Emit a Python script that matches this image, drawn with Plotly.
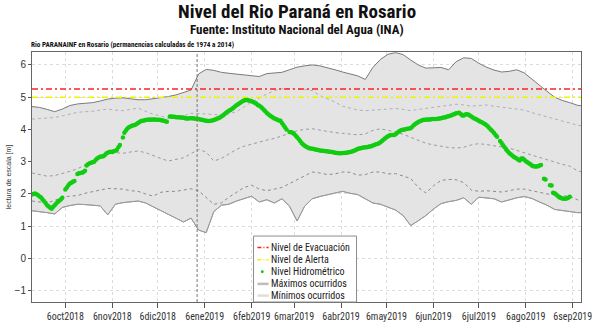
import pandas as pd
import plotly.graph_objects as go

# ---------------- data ----------------
start_date = "2018-09-14"

# daily water level (Nivel Hidrométrico), None = missing day
nivel = [
    1.98, 2.00, 2.01, 1.99, 1.96, 1.92, 1.89, 1.83, 1.77, 1.72,
    1.65, 1.61, 1.57, 1.54, 1.60, 1.65, 1.70, 1.75, 1.79, 1.83,
    1.88, None, 2.14, 2.20, 2.27, 2.32, 2.35, 2.38, 2.40, None,
    2.62, 2.64, 2.65, 2.66, 2.68, 2.72, 2.88, 2.92, 2.95, 2.97,
    2.98, 3.00, 3.05, 3.10, 3.13, 3.15, 3.16, 3.17, 3.20, 3.25,
    3.28, 3.30, 3.31, 3.30, 3.32, 3.34, 3.36, 3.45, 3.52, None,
    3.75, 3.90, 3.97, 4.03, 4.07, 4.09, 4.11, 4.13, 4.14, 4.17,
    4.20, 4.23, 4.26, 4.27, 4.28, 4.29, 4.30, 4.30, 4.31, 4.30,
    4.31, 4.31, 4.30, 4.30, 4.30, 4.29, 4.28, 4.27, 4.25, 4.24,
    None, 4.40, 4.40, 4.39, 4.39, 4.38, 4.38, 4.38, 4.37, 4.37,
    4.36, 4.35, 4.34, 4.34, 4.35, 4.35, 4.35, 4.34, 4.33, 4.33,
    4.32, 4.31, 4.30, 4.29, 4.28, 4.27, 4.26, 4.26, 4.27, 4.28,
    4.29, 4.31, 4.33, 4.35, 4.37, 4.40, 4.43, 4.47, 4.51, 4.55,
    4.58, 4.60, 4.63, 4.67, 4.71, 4.75, 4.78, 4.81, 4.84, 4.87,
    4.90, 4.91, 4.91, 4.90, 4.89, 4.87, 4.85, 4.83, 4.80, 4.76,
    4.73, 4.70, 4.66, 4.61, 4.56, 4.51, 4.47, 4.43, 4.40, 4.37,
    4.34, 4.32, 4.30, 4.28, 4.27, 4.20, 4.14, 4.07, 4.00, None,
    3.92, 3.91, 3.90, 3.86, 3.81, 3.76, 3.70, 3.64, 3.58, 3.53,
    3.49, 3.46, 3.44, 3.42, 3.41, 3.40, 3.39, 3.38, 3.37, 3.36,
    3.35, 3.34, 3.34, 3.33, 3.32, 3.32, 3.31, 3.31, 3.30, 3.29,
    3.28, 3.27, 3.27, 3.26, 3.26, 3.27, 3.27, 3.28, 3.28, 3.29,
    3.30, 3.31, 3.33, 3.35, 3.37, 3.39, 3.41, 3.42, 3.43, 3.44,
    3.45, 3.45, 3.46, 3.47, 3.48, 3.50, 3.52, 3.54, 3.55, 3.57,
    3.60, 3.64, 3.68, 3.72, 3.76, 3.79, 3.81, 3.83, 3.83, 3.83,
    3.85, 3.89, 3.93, 3.96, 3.98, 3.99, 4.00, 4.01, 4.02, 4.03,
    4.04, 4.08, 4.13, 4.17, 4.20, 4.23, 4.25, 4.27, 4.29, 4.30,
    4.30, 4.31, 4.31, 4.31, 4.32, 4.32, 4.32, 4.32, 4.33, 4.34,
    4.35, 4.36, 4.37, 4.38, 4.40, 4.41, 4.42, 4.44, 4.46, 4.48,
    4.50, 4.51, 4.52, 4.48, 4.43, 4.43, 4.46, 4.47, 4.46, 4.43,
    4.40, 4.37, 4.34, 4.32, 4.29, 4.27, 4.24, 4.22, 4.19, 4.17,
    4.13, 4.09, 4.04, 3.99, 3.94, 3.89, 3.83, 3.77, None, 3.64,
    3.58, 3.51, 3.45, 3.38, 3.32, 3.27, 3.23, 3.19, 3.15, 3.12,
    3.10, 3.06, 3.04, 3.10, 3.10, 3.06, 3.01, 2.98, 2.95, 2.92,
    2.88, 2.86, 2.85, 2.85, 2.86, 2.88, 2.90, None, 2.47, 2.45,
    None, None, 2.27, 2.26, 2.04, 2.02, 1.98, 1.94, 1.90, 1.88,
    1.86, 1.85, 1.85, 1.86, 1.88, 1.91,
]

# historical envelopes, sampled every 5 days from start_date
maximos = [
    4.71, 4.68, 4.62, 4.55, 4.63, 4.74, 4.79, 4.80, 4.83, 4.88,
    4.94, 4.97, 4.98, 4.95, 4.92, 4.92, 4.95, 4.98, 5.02, 5.07,
    5.14, 5.22, 5.72, 5.86, 5.83, 5.77, 5.74, 5.72, 5.70, 5.68,
    5.64, 5.73, 5.76, 5.77, 5.85, 5.93, 5.97, 6.00, 5.97, 5.92,
    5.85, 5.78, 5.73, 5.66, 5.55, 5.92, 6.17, 6.33, 6.38, 6.32,
    6.15, 6.00, 5.90, 5.90, 5.92, 5.85, 6.10, 6.22, 6.20, 6.05,
    5.93, 5.84, 5.78, 5.80, 5.85, 5.75, 5.55, 5.35, 5.18, 5.00,
    4.90, 4.83, 4.75, 4.72,
]
minimos = [
    1.48, 1.46, 1.42, 1.38, 1.58, 1.64, 1.68, 1.67, 1.66, 1.63,
    1.35, 1.68, 1.73, 1.75, 1.78, 1.72, 1.60, 1.48, 1.38, 1.25,
    1.13, 1.25, 0.88, 0.80, 1.45, 1.65, 1.68, 1.78, 1.85, 1.93,
    1.75, 1.82, 1.72, 1.85, 1.62, 1.16, 1.62, 1.85, 1.92, 1.98,
    2.03, 2.08, 2.02, 1.98, 1.85, 1.72, 1.68, 1.58, 1.50, 1.33,
    1.02, 1.17, 1.33, 1.53, 1.70, 1.76, 1.80, 1.88, 1.68, 1.90,
    1.87, 1.85, 1.75, 1.82, 1.88, 1.92, 1.86, 1.75, 1.65, 1.52,
    1.48, 1.45, 1.42, 1.42,
]
perm_alta = [
    4.32, 4.33, 4.35, 4.37, 4.42, 4.48, 4.53, 4.55, 4.56, 4.60,
    4.63, 4.60, 4.58, 4.62, 4.66, 4.56, 4.47, 4.42, 4.34, 4.37,
    4.42, 4.50, 4.50, 4.48, 4.46, 4.45, 4.48, 4.55, 4.70, 4.85,
    4.97, 5.10, 5.20, 5.26, 5.27, 5.26, 5.24, 5.20, 5.05, 4.95,
    4.85, 4.72, 4.66, 4.60, 4.58, 4.60, 4.63, 4.64, 4.65, 4.62,
    4.58, 4.62, 4.65, 4.68, 4.71, 4.74, 4.78, 4.76, 4.72, 4.74,
    4.76, 4.72, 4.68, 4.66, 4.63, 4.60, 4.52, 4.45, 4.38, 4.32,
    4.26, 4.20, 4.13, 4.10,
]
perm_media = [
    2.65, 2.60, 2.55, 2.57, 2.63, 2.70, 2.78, 2.90, 3.00, 3.12,
    3.25, 3.28, 3.26, 3.30, 3.33, 3.28, 3.18, 3.10, 3.02, 3.06,
    3.12, 3.25, 3.38, 3.30, 3.02, 3.10, 3.25, 3.38, 3.48, 3.55,
    3.62, 3.67, 3.72, 3.80, 3.88, 3.96, 4.00, 4.02, 3.98, 3.93,
    3.90, 3.88, 3.86, 3.83, 3.86, 3.97, 4.02, 3.98, 3.92, 3.85,
    3.76, 3.65, 3.57, 3.52, 3.47, 3.44, 3.42, 3.45, 3.52, 3.56,
    3.53, 3.50, 3.46, 3.42, 3.35, 3.27, 3.20, 3.13, 3.06, 2.98,
    2.92, 2.86, 2.72, 2.65,
]
perm_baja = [
    1.78, 1.76, 1.72, 1.80, 1.90, 1.93, 1.95, 2.02, 2.08, 2.12,
    2.17, 2.16, 2.15, 2.10, 2.08, 2.00, 1.93, 2.05, 2.08, 2.08,
    2.12, 2.16, 2.10, 1.90, 1.68, 1.72, 1.90, 2.05, 2.20, 2.27,
    2.15, 2.10, 2.15, 2.20, 2.32, 2.44, 2.58, 2.68, 2.65, 2.60,
    2.62, 2.68, 2.67, 2.58, 2.60, 2.68, 2.68, 2.62, 2.63, 2.55,
    2.48, 2.20, 2.03, 2.25, 2.42, 2.45, 2.44, 2.35, 2.12, 2.08,
    2.10, 2.08, 2.06, 2.10, 2.15, 2.15, 2.10, 2.03, 2.00, 1.97,
    1.95, 1.92, 1.82, 1.75,
]

nivel_evacuacion = 5.25
nivel_alerta = 5.0
inicio_anio = "2019-01-01"

tick_fechas = ["2018-10-06", "2018-11-06", "2018-12-06", "2019-01-06", "2019-02-06", "2019-03-06",
               "2019-04-06", "2019-05-06", "2019-06-06", "2019-07-06", "2019-08-06", "2019-09-06"]
tick_textos = ["6oct2018", "6nov2018", "6dic2018", "6ene2019", "6feb2019", "6mar2019",
               "6abr2019", "6may2019", "6jun2019", "6jul2019", "6ago2019", "6sep2019"]

legend_labels = ["Nivel de Evacuación", "Nivel de Alerta", "Nivel Hidrométrico",
                 "Máximos ocurridos", "Mínimos ocurridos"]

x_range = ["2018-09-14", "2019-09-11 10:00"]
y_range = [-1.35, 6.4]

# ---------------- styles ----------------
NARROW = "Liberation Sans Narrow, Arial Narrow, Roboto Condensed, sans-serif"
C_EVAC = "#ff2020"
C_ALERT = "#f2f200"
C_GREEN = "#11cc11"
DASHDOT = "6px,3px,2px,3px"

W, H = 600, 330
ML, MR, MT, MB = 27, 8, 52, 24
PW, PH = W - ML - MR, H - MT - MB


def px_x(px):
    return (px - ML) / PW


def px_y(py):
    return (H - MB - py) / PH


# ---------------- figure ----------------
fechas_nivel = pd.date_range(start_date, periods=len(nivel), freq="D")
fechas_env = pd.date_range(start_date, periods=len(maximos), freq="5D")
fechas_lim = [fechas_env[0], fechas_env[-1]]

fig = go.Figure()

fig.add_trace(go.Scatter(x=fechas_env, y=minimos, mode="lines", name="Mínimos ocurridos",
                         line=dict(color="#a0a0a0", width=1), hoverinfo="skip"))
fig.add_trace(go.Scatter(x=fechas_env, y=maximos, mode="lines", fill="tonexty", name="Máximos ocurridos",
                         fillcolor="#e4e4e4", line=dict(color="#7a7a7a", width=1), hoverinfo="skip"))
fig.add_trace(go.Scatter(x=fechas_env, y=minimos, mode="lines", name="Mínimos",
                         line=dict(color="#9a9a9a", width=1), hoverinfo="skip"))
fig.add_trace(go.Scatter(x=fechas_env, y=perm_alta, mode="lines", name="perm. alta",
                         line=dict(color="#b0b0b0", width=1, dash="dot")))
fig.add_trace(go.Scatter(x=fechas_env, y=perm_media, mode="lines", name="perm. media",
                         line=dict(color="#9a9a9a", width=1, dash="dot")))
fig.add_trace(go.Scatter(x=fechas_env, y=perm_baja, mode="lines", name="perm. baja",
                         line=dict(color="#8a8a8a", width=1, dash="dot")))

fig.add_trace(go.Scatter(x=fechas_lim, y=[nivel_evacuacion] * 2, mode="lines",
                         name="Nivel de Evacuación", line=dict(color=C_EVAC, width=1.5, dash=DASHDOT)))
fig.add_trace(go.Scatter(x=fechas_lim, y=[nivel_alerta] * 2, mode="lines",
                         name="Nivel de Alerta", line=dict(color=C_ALERT, width=1.5, dash=DASHDOT)))

fig.add_trace(go.Scatter(x=fechas_nivel, y=nivel, mode="markers", name="Nivel Hidrométrico",
                         marker=dict(color=C_GREEN, size=4.5, symbol="circle", line=dict(width=0))))

fig.add_shape(type="line", xref="x", yref="paper", x0=inicio_anio, x1=inicio_anio, y0=0, y1=1,
              line=dict(color="#777777", width=1, dash="3px,2px"))

# ---------------- legend box (drawn) ----------------
LX0, LX1, LY0, LY1 = 255, 361, 239, 306
fig.add_shape(type="rect", xref="paper", yref="paper",
              x0=px_x(LX0), x1=px_x(LX1), y0=px_y(LY1), y1=px_y(LY0),
              fillcolor="white", line=dict(color="#8c8c8c", width=1), layer="above")
row_y = [250.7, 263.0, 275.3, 287.6, 299.5]
sym_styles = [
    dict(color=C_EVAC, width=1.5, dash="4px,2px,1px,2px"),
    dict(color=C_ALERT, width=1.5, dash="4px,2px,1px,2px"),
    None,
    dict(color="#bdbdbd", width=2.5),
    dict(color="#dedede", width=2.5),
]
for lbl, ry, st in zip(legend_labels, row_y, sym_styles):
    if st is None:
        fig.add_shape(type="circle", xref="paper", yref="paper",
                      x0=px_x(262.5), x1=px_x(265.5), y0=px_y(ry + 1.5), y1=px_y(ry - 1.5),
                      fillcolor=C_GREEN, line=dict(width=0), layer="above")
    else:
        fig.add_shape(type="line", xref="paper", yref="paper",
                      x0=px_x(259), x1=px_x(270.5), y0=px_y(ry), y1=px_y(ry),
                      line=st, layer="above")
    fig.add_annotation(text=lbl, xref="paper", yref="paper", x=px_x(272), y=px_y(ry),
                       xanchor="left", yanchor="middle", showarrow=False, borderpad=0,
                       font=dict(family=NARROW, size=10, color="#222"))

fig.update_layout(
    width=W, height=H,
    margin=dict(l=ML, r=MR, t=MT, b=MB),
    paper_bgcolor="white", plot_bgcolor="white",
    showlegend=False,
    font=dict(family="Liberation Sans, Arial, sans-serif", color="#333"),
)

fig.update_xaxes(
    range=x_range, tickvals=tick_fechas, ticktext=tick_textos, tickangle=0,
    ticklabeloverflow="allow",
    tickfont=dict(family=NARROW, size=10, color="#333"),
    ticks="outside", ticklen=5, tickcolor="#555",
    showline=True, linecolor="#666", linewidth=1, mirror=True,
    showgrid=True, gridcolor="#dcdcdc", griddash="dot", gridwidth=1,
    zeroline=False,
)
fig.update_yaxes(
    range=y_range, tickvals=[-1, 0, 1, 2, 3, 4, 5, 6],
    tickfont=dict(family="Liberation Sans, Arial, sans-serif", size=10, color="#333"),
    ticks="outside", ticklen=3, tickcolor="#555",
    showline=True, linecolor="#666", linewidth=1, mirror=True,
    showgrid=True, gridcolor="#dcdcdc", griddash="dot", gridwidth=1,
    zeroline=False,
    title=dict(text="lectura de escala [m]", font=dict(size=7, color="#333"), standoff=2),
)

fig.add_annotation(text="<b>Nivel del Rio Paraná en Rosario</b>", xref="paper", yref="paper",
                   x=px_x(300), y=px_y(10.5), showarrow=False, borderpad=0,
                   font=dict(family=NARROW, size=19, color="#111"), xanchor="center", yanchor="middle")
fig.add_annotation(text="<b>Fuente: Instituto Nacional del Agua (INA)</b>", xref="paper", yref="paper",
                   x=px_x(300), y=px_y(29), showarrow=False, borderpad=0,
                   font=dict(family=NARROW, size=13, color="#111"), xanchor="center", yanchor="middle")
fig.add_annotation(text="<b>Rio PARANAINF en Rosario (permanencias calculadas de 1974 a 2014)</b>",
                   xref="paper", yref="paper", x=px_x(25), y=px_y(44), borderpad=0,
                   showarrow=False, font=dict(family=NARROW, size=7.2, color="#111"),
                   xanchor="left", yanchor="middle")

fig.write_html("out.html")
